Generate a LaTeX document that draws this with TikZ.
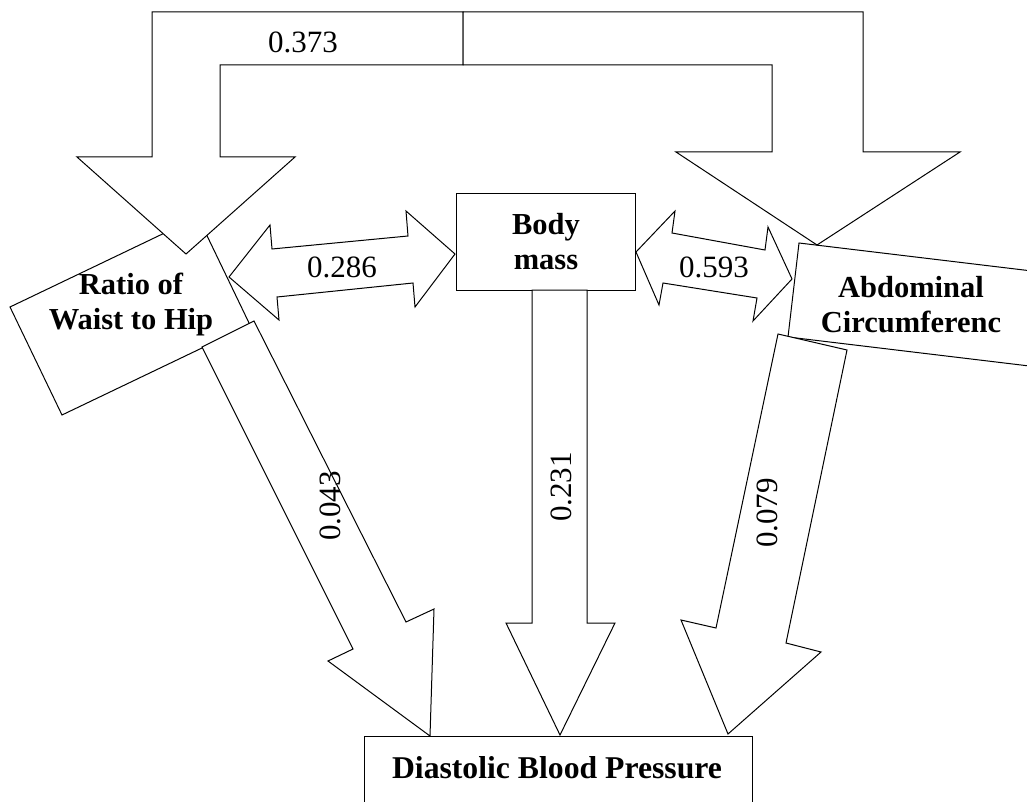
\documentclass[tikz,border=0pt]{standalone}
\usepackage{fontspec}
\setmainfont{Liberation Serif}
\begin{document}
\begin{tikzpicture}[x=1pt,y=-1pt,
  blk/.style={draw=black, fill=white, line width=1pt, line join=miter},
  num/.style={font=\fontsize{31}{35}\selectfont, inner sep=0pt},
  lbl/.style={font=\bfseries\fontsize{30.5}{35}\selectfont, align=center, inner sep=0pt}]
\useasboundingbox (0,0) rectangle (1027,802);
\clip (0,0) rectangle (1027,802);
% Ratio box (rotated)
\draw[blk] (10,307) -- (198,217) -- (250,325) -- (62,415) -- cycle;
% arrow 0.043
\draw[blk] (202,347) -- (254,321) -- (406,622) -- (434,609) -- (430,736) -- (328,661) -- (353,649) -- cycle;
% Abdominal box (rotated)
\draw[blk] (799,243) -- (1057,274) -- (1046,368) -- (788,337) -- cycle;
% arrow 0.079
\draw[blk] (778,334) -- (847,350) -- (786,643) -- (821,652) -- (728,734) -- (681,620) -- (716,628) -- cycle;
% Body mass box
\draw[blk] (456,194) rectangle (635,290);
% arrow 0.231
\draw[blk] (532,290) -- (587,290) -- (587,623) -- (615,623) -- (560,735) -- (506,623) -- (532,623) -- cycle;
% DBP box
\draw[blk] (364,736) rectangle (752,830);
% double arrow 0.286
\draw[blk] (229,277) -- (270,225) -- (272,249) -- (408,236) -- (406,211) -- (455,254) -- (415,307) -- (413,283) -- (277,297) -- (279,320) -- cycle;
% double arrow 0.593
\draw[blk] (636,252) -- (675,211) -- (672,233) -- (765,250) -- (768,227) -- (792,279) -- (753,321) -- (757,298) -- (663,283) -- (659,305) -- cycle;
% top bent arrows
\draw[blk] (463,12) -- (152,12) -- (152,157) -- (77,157) -- (186,254) -- (295,157) -- (220,157) -- (220,65) -- (463,65) -- cycle;
\draw[blk] (463,12) -- (863,12) -- (863,152) -- (960,152) -- (817,245) -- (676,152) -- (772,152) -- (772,65) -- (463,65) -- cycle;
% labels
\node[lbl, anchor=north] (ratio) at (131,273) {Ratio of\\Waist to Hip};
\node[lbl, anchor=north] (body) at (546,213) {Body\\mass};
\node[lbl, anchor=north] (abd) at (911,276) {Abdominal\\Circumferenc};
\node[lbl, anchor=base, font=\bfseries\fontsize{31.7}{35}\selectfont] (dbp) at (557,778) {Diastolic Blood Pressure};
\node[num, anchor=base] (n373) at (303,53) {0.373};
\node[num, anchor=base] (n286) at (342,277) {0.286};
\node[num, anchor=base] (n593) at (714,277) {0.593};
\node[num, rotate=90] (n043) at (330,506) {0.043};
\node[num, rotate=90] (n231) at (561.5,487) {0.231};
\node[num, rotate=90] (n079) at (767,513) {0.079};
\end{tikzpicture}
\end{document}
